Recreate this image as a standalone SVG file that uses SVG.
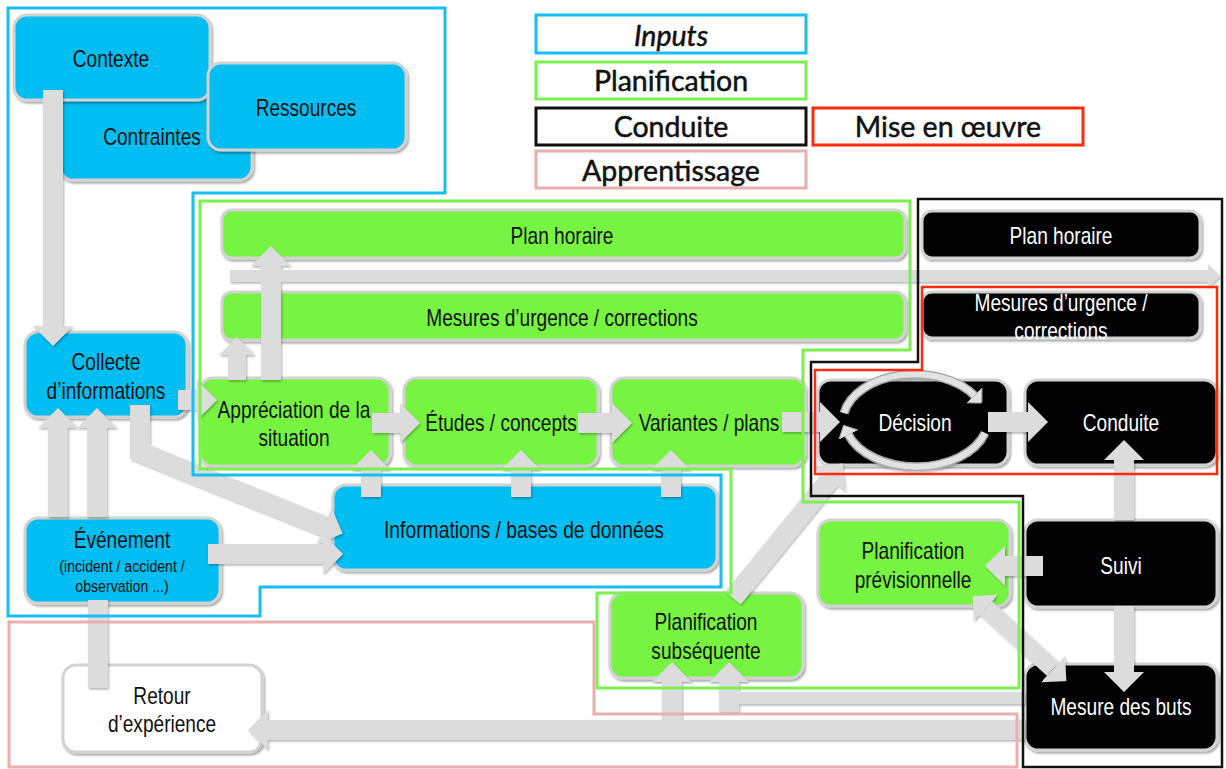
<svg xmlns="http://www.w3.org/2000/svg" width="1226" height="769" viewBox="0 0 1226 769">
  <defs>
    <filter id="sh" x="-10%" y="-10%" width="130%" height="140%">
      <feDropShadow dx="1.5" dy="2" stdDeviation="1.2" flood-color="#000" flood-opacity="0.35"/>
    </filter>
    <filter id="ash" x="-10%" y="-10%" width="130%" height="130%">
      <feDropShadow dx="1" dy="1.5" stdDeviation="1" flood-color="#000" flood-opacity="0.3"/>
    </filter>
    <!-- block arrow head, sized relative to the shaft width -->
    <marker id="head" viewBox="0 0 10 20" refX="0" refY="10" markerWidth="1" markerHeight="2" markerUnits="strokeWidth" orient="auto-start-reverse">
      <path d="M0,0 L10,10 L0,20 Z" fill="#dcdcdc"/>
    </marker>
    <marker id="chead" viewBox="0 0 10 20" refX="1" refY="10" markerWidth="1.8" markerHeight="3.6" markerUnits="strokeWidth" orient="auto">
      <path d="M0,0 L10,10 L0,20 Z" fill="#e2e2e2" stroke="#a9a9a9" stroke-width="1"/>
    </marker>
    <style>
      .n rect { stroke: #d2d2d2; stroke-width: 3; filter: url(#sh); }
      .blue { fill: #00BEF2; }
      .green { fill: #77F442; }
      .black { fill: #000; }
      .white { fill: #fff; }
      .lbl { font-family: 'Liberation Sans', Arial, sans-serif; font-size: 23px; text-anchor: middle; fill: #111; }
      .wl { fill: #fff; }
      .small { font-size: 17px; }
      .leg { font-family: Lato, 'Open Sans', sans-serif; font-size: 28.5px; text-anchor: middle; fill: #111; stroke: #111; stroke-width: 0.5; }
      .lbox { fill: #fff; stroke-width: 3; }
      .conn path { fill: none; stroke: #dcdcdc; stroke-linecap: butt; stroke-linejoin: miter; }
      .w20 { stroke-width: 20; }
      .w18 { stroke-width: 18; }
      .w12 { stroke-width: 12; }
      .region { fill: none; }
    </style>
  </defs>

  <rect width="1226" height="769" fill="#fff"/>

  <!-- legend -->
  <g id="legend">
    <rect class="lbox" x="536" y="15" width="270" height="38" stroke="#19BDF0"/>
    <text class="leg" x="671" y="46" font-style="italic">Inputs</text>
    <rect class="lbox" x="536" y="62" width="270" height="37" stroke="#7BF04F"/>
    <text class="leg" x="671" y="91">Planification</text>
    <rect class="lbox" x="536" y="108" width="270" height="37" stroke="#111"/>
    <text class="leg" x="671" y="137">Conduite</text>
    <rect class="lbox" x="813" y="108" width="270" height="37" stroke="#FF2B0B"/>
    <text class="leg" x="948" y="137">Mise en œuvre</text>
    <rect class="lbox" x="536" y="151" width="270" height="37" stroke="#E9AEAE"/>
    <text class="leg" x="671" y="181">Apprentissage</text>
  </g>

  <!-- nodes -->
  <g id="contraintes" class="n">
    <rect class="blue" x="60" y="70" width="192" height="110" rx="13"/>
    <text class="lbl" transform="translate(152,145) scale(0.83,1)">Contraintes</text>
  </g>
  <g id="contexte" class="n">
    <rect class="blue" x="14" y="15" width="196" height="85" rx="13"/>
    <text class="lbl" transform="translate(111,67) scale(0.83,1)">Contexte</text>
  </g>
  <g id="ressources" class="n">
    <rect class="blue" x="208" y="63" width="198" height="87" rx="13"/>
    <text class="lbl" transform="translate(306,116) scale(0.83,1)">Ressources</text>
  </g>
  <g id="collecte" class="n">
    <rect class="blue" x="25" y="332" width="162" height="85" rx="13"/>
    <text class="lbl" transform="translate(106,370) scale(0.83,1)">Collecte<tspan x="0" dy="29">d’informations</tspan></text>
  </g>
  <g id="evenement" class="n">
    <rect class="blue" x="25" y="518" width="195" height="85" rx="13"/>
    <text class="lbl" transform="translate(122,548) scale(0.83,1)">Événement</text>
    <text class="lbl small" transform="translate(122,572) scale(0.83,1)">(incident / accident /<tspan x="0" dy="20">observation ...)</tspan></text>
  </g>
  <g id="informations" class="n">
    <rect class="blue" x="333" y="485" width="384" height="85" rx="13"/>
    <text class="lbl" transform="translate(524,538) scale(0.84,1)">Informations / bases de données</text>
  </g>

  <g id="plan-horaire-planif" class="n">
    <rect class="green" x="222" y="210" width="683" height="48" rx="10"/>
    <text class="lbl" transform="translate(562,244) scale(0.83,1)">Plan horaire</text>
  </g>
  <g id="mesures-planif" class="n">
    <rect class="green" x="222" y="292" width="683" height="48" rx="10"/>
    <text class="lbl" transform="translate(562,326) scale(0.83,1)">Mesures d’urgence / corrections</text>
  </g>
  <g id="appreciation" class="n">
    <rect class="green" x="200" y="378" width="190" height="88" rx="13"/>
    <text class="lbl" transform="translate(294,418) scale(0.83,1)">Appréciation de la<tspan x="0" dy="28">situation</tspan></text>
  </g>
  <g id="etudes" class="n">
    <rect class="green" x="404" y="378" width="194" height="88" rx="13"/>
    <text class="lbl" transform="translate(501,431) scale(0.83,1)">Études / concepts</text>
  </g>
  <g id="variantes" class="n">
    <rect class="green" x="611" y="378" width="194" height="88" rx="13"/>
    <text class="lbl" transform="translate(709,431) scale(0.83,1)">Variantes / plans</text>
  </g>
  <g id="previsionnelle" class="n">
    <rect class="green" x="818" y="520" width="192" height="86" rx="13"/>
    <text class="lbl" transform="translate(913,559) scale(0.83,1)">Planification<tspan x="0" dy="29">prévisionnelle</tspan></text>
  </g>
  <g id="subsequente" class="n">
    <rect class="green" x="610" y="593" width="193" height="85" rx="13"/>
    <text class="lbl" transform="translate(706,630) scale(0.83,1)">Planification<tspan x="0" dy="29">subséquente</tspan></text>
  </g>

  <g id="plan-horaire-conduite" class="n">
    <rect class="black" x="922" y="211" width="278" height="47" rx="10"/>
    <text class="lbl wl" transform="translate(1061,244) scale(0.83,1)">Plan horaire</text>
  </g>
  <g id="mesures-conduite" class="n">
    <rect class="black" x="922" y="292" width="278" height="46" rx="10"/>
    <text class="lbl wl" transform="translate(1061,311) scale(0.83,1)">Mesures d’urgence /<tspan x="0" dy="28">corrections</tspan></text>
  </g>
  <g id="decision" class="n">
    <rect class="black" x="818" y="380" width="190" height="85" rx="13"/>
    <text class="lbl wl" transform="translate(915,431) scale(0.83,1)">Décision</text>
  </g>
  <g id="conduite" class="n">
    <rect class="black" x="1025" y="380" width="192" height="85" rx="13"/>
    <text class="lbl wl" transform="translate(1121,431) scale(0.83,1)">Conduite</text>
  </g>
  <g id="suivi" class="n">
    <rect class="black" x="1025" y="520" width="192" height="87" rx="13"/>
    <text class="lbl wl" transform="translate(1121,574) scale(0.83,1)">Suivi</text>
  </g>
  <g id="mesure-buts" class="n">
    <rect class="black" x="1025" y="664" width="192" height="86" rx="13"/>
    <text class="lbl wl" transform="translate(1121,715) scale(0.83,1)">Mesure des buts</text>
  </g>
  <g id="retour" class="n">
    <rect class="white" x="63" y="665" width="199" height="87" rx="13"/>
    <text class="lbl" transform="translate(162,704) scale(0.83,1)">Retour<tspan x="0" dy="28">d’expérience</tspan></text>
  </g>

  <!-- connectors -->
  <g id="connectors" class="conn" filter="url(#ash)">
    <path class="w20" d="M53,90 V326" marker-end="url(#head)"/>
    <path class="w20" d="M58,517 V428" marker-end="url(#head)"/>
    <path class="w20" d="M97,517 V428" marker-end="url(#head)"/>
    <path class="w20" d="M140,405 V452 L324,526" marker-end="url(#head)"/>
    <path class="w20" d="M208,554 H323" marker-end="url(#head)"/>
    <path class="w20" d="M178,400 H197" marker-end="url(#head)"/>
    <path class="w20" d="M372,423 H400" marker-end="url(#head)"/>
    <path class="w20" d="M578,423 H612" marker-end="url(#head)"/>
    <path class="w20" d="M782,422 H820" marker-end="url(#head)"/>
    <path class="w20" d="M988,422 H1028" marker-end="url(#head)"/>
    <path class="w20" d="M371,497 V470" marker-end="url(#head)"/>
    <path class="w20" d="M521,497 V470" marker-end="url(#head)"/>
    <path class="w20" d="M671,497 V470" marker-end="url(#head)"/>
    <path class="w18" d="M237,380 V355" marker-end="url(#head)"/>
    <path class="w20" d="M271,380 V266" marker-end="url(#head)"/>
    <path class="w12" d="M230,276 H1208" marker-end="url(#head)"/>
    <path class="w20" d="M733,598 L830,479" marker-end="url(#head)"/>
    <path class="w20" d="M1043,566 H1005" marker-end="url(#head)"/>
    <path class="w20" d="M1124,520 V460" marker-end="url(#head)"/>
    <path class="w20" d="M1124,606 V672" marker-end="url(#head)"/>
    <path class="w18" d="M986,608 L1053,669" marker-start="url(#head)" marker-end="url(#head)"/>
    <path class="w20" d="M1025,730 H268" marker-end="url(#head)"/>
    <path class="w20" d="M672,730 V682" marker-end="url(#head)"/>
    <path class="w12" d="M1025,698 H729"/>
    <path class="w20" d="M729,712 V682" marker-end="url(#head)"/>
    <path class="w20" d="M98,600 V688"/>
    <!-- decision loop -->
    <path d="M844,413 A72,48 0 0,1 975,396" style="stroke:#a9a9a9;stroke-width:9"/>
    <path d="M844,413 A72,48 0 0,1 975,396" style="stroke:#e2e2e2;stroke-width:6" marker-end="url(#chead)"/>
    <path d="M985,433 A72,48 0 0,1 848,434" style="stroke:#a9a9a9;stroke-width:9"/>
    <path d="M985,433 A72,48 0 0,1 848,434" style="stroke:#e2e2e2;stroke-width:6" marker-end="url(#chead)"/>
  </g>

  <!-- domain outlines -->
  <g id="regions" class="region">
    <path d="M8,8 H445 V193 H193 V475 H721 V587 H260 V616 H8 Z" stroke="#19BDF0" stroke-width="3"/>
    <path d="M200,201 H910 V350 H803 V502 H1019 V688 H597 V593 H731 V469 H200 Z" stroke="#7BF04F" stroke-width="3"/>
    <path d="M918,199 H1222 V767 H1023 V496 H811 V362 H918 Z" stroke="#111" stroke-width="2.5"/>
    <path d="M922,287 H1217 V474 H815 V370 H922 Z" stroke="#FF2B0B" stroke-width="2.5"/>
    <path d="M9,622 H594 V714 H1017 V767 H9 Z" stroke="#E9AEAE" stroke-width="3"/>
  </g>
</svg>
